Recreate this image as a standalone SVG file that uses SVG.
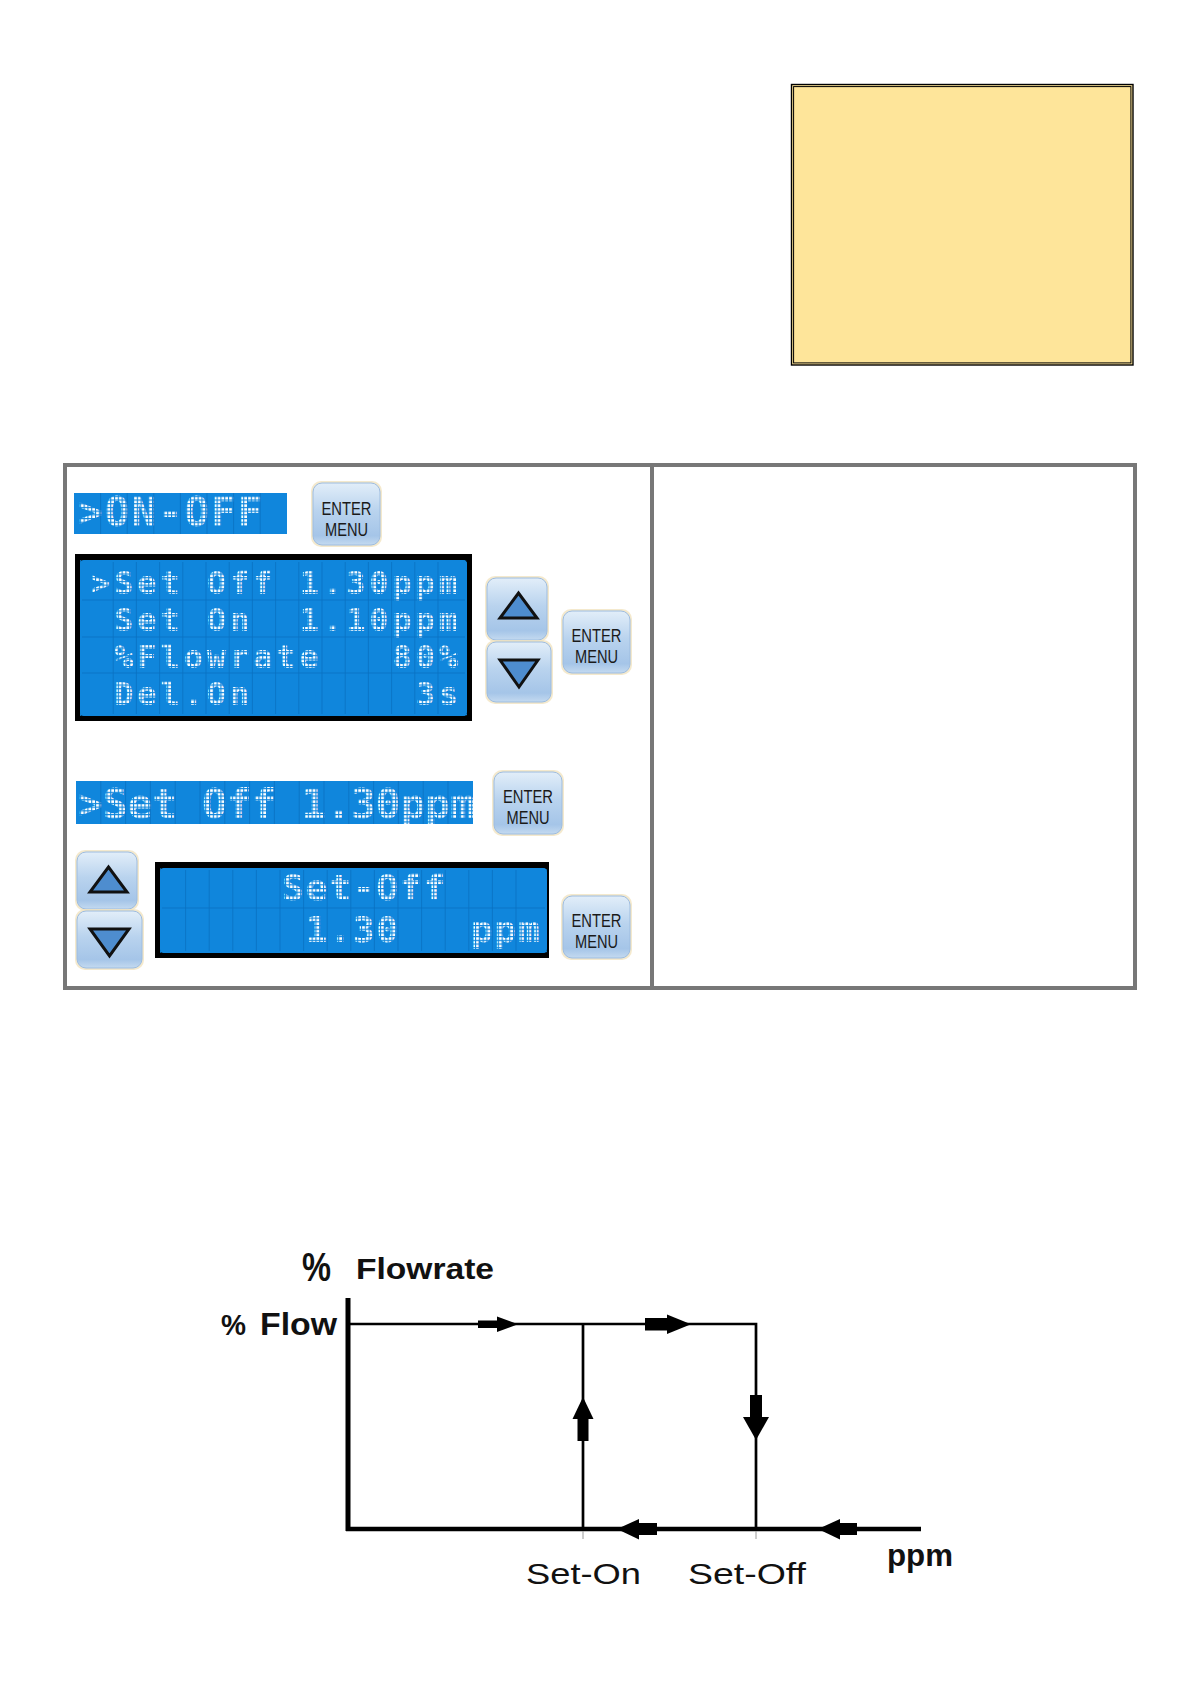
<svg xmlns="http://www.w3.org/2000/svg" width="1191" height="1684" viewBox="0 0 1191 1684">
<defs>
<linearGradient id="btnGrad" x1="0" y1="0" x2="0" y2="1">
<stop offset="0" stop-color="#E2EEF9"/>
<stop offset="0.45" stop-color="#B9D3EE"/>
<stop offset="0.85" stop-color="#A5C5E8"/>
<stop offset="1" stop-color="#C4DAF0"/>
</linearGradient>
<pattern id="dots" width="3.8" height="3.7" patternUnits="userSpaceOnUse">
<path d="M0 0H3.8V1.1H0Z M0 0H1.1V3.7H0Z" fill="#1086DC"/>
</pattern>
</defs>
<style>
.lcdbg{fill:#1086DC}
.lcdframe{fill:#000}
.lcdtxt{font-family:"DejaVu Sans Mono","Liberation Mono",monospace;font-weight:bold;fill:#FFFFFF}
.grid{stroke:#0A72C2;stroke-width:1;fill:none;opacity:0.8}
.halo{fill:#F1E3C0;opacity:0.8}
.btn{fill:url(#btnGrad);stroke:#9DBCE0;stroke-width:1}
.btntxt{font-family:"Liberation Sans",Arial,sans-serif;font-size:18px;fill:#1A1A1A;text-anchor:middle}
.tri{fill:#4E8DCF;stroke:#111;stroke-width:3;stroke-linejoin:miter}
.tbl{fill:none;stroke:#777777;stroke-width:4}
.ax{stroke:#000;fill:none}
.arr{fill:#000}
.lbl{font-family:"Liberation Sans",Arial,sans-serif;fill:#111}
.bold{font-weight:bold}
</style>
<rect width="1191" height="1684" fill="#FFFFFF"/>

<g id="note-box">
<rect x="791.5" y="84.5" width="341.5" height="280.5" fill="#FEE59A" stroke="#000" stroke-width="1.4"/>
<rect x="793.6" y="86.6" width="337.3" height="276.3" fill="none" stroke="#000" stroke-width="1"/>
</g>

<g id="table">
<rect class="tbl" x="65" y="465" width="1070" height="523"/>
<line class="tbl" x1="652" y1="465" x2="652" y2="988"/>
</g>

<g id="lcd-onoff">
<rect class="lcdbg" x="74" y="493" width="213" height="41"/>
<text class="lcdtxt" x="78" y="526" font-size="41" letter-spacing="1.9">&gt;ON-OFF</text>
<rect x="74" y="493" width="213" height="41" fill="url(#dots)"/>
<path class="grid" d="M100.6 493V534M127.2 493V534M153.8 493V534M180.4 493V534M207 493V534M233.6 493V534M260.2 493V534"/>
</g>

<g id="btn-enter-1">
<rect class="halo" x="311" y="481" width="71" height="66" rx="10"/>
<rect class="btn" x="313" y="483" width="67" height="62" rx="9"/>
<text class="btntxt" x="346.5" y="515" textLength="50" lengthAdjust="spacingAndGlyphs">ENTER</text>
<text class="btntxt" x="346.5" y="536" textLength="43" lengthAdjust="spacingAndGlyphs">MENU</text>
</g>

<g id="lcd-main">
<rect class="lcdframe" x="75" y="554" width="397" height="167"/>
<rect class="lcdbg" x="80" y="560" width="387" height="156" rx="4"/>
<text class="lcdtxt" font-size="31.5" letter-spacing="4.2">
<tspan x="91" y="594">&gt;Set</tspan><tspan x="207" y="594">Off</tspan><tspan x="299.8" y="594">1.30ppm</tspan>
</text>
<text class="lcdtxt" font-size="31.5" letter-spacing="4.2">
<tspan x="114.2" y="631">Set</tspan><tspan x="207" y="631">On</tspan><tspan x="299.8" y="631">1.10ppm</tspan>
</text>
<text class="lcdtxt" font-size="31.5" letter-spacing="4.2">
<tspan x="114.2" y="668">%Flowrate</tspan><tspan x="392.6" y="668">80%</tspan>
</text>
<text class="lcdtxt" font-size="31.5" letter-spacing="4.2">
<tspan x="114.2" y="705">Del.On</tspan><tspan x="415.8" y="705">3s</tspan>
</text>
<rect x="80" y="560" width="387" height="156" fill="url(#dots)"/>
<path class="grid" d="M113.2 562V714M136.4 562V714M159.6 562V714M182.8 562V714M206 562V714M229.2 562V714M252.4 562V714M275.6 562V714M298.8 562V714M322 562V714M345.2 562V714M368.4 562V714M391.6 562V714M414.8 562V714M438 562V714M82 600H465M82 637H465M82 673H465"/>
</g>

<g id="btn-up-1">
<rect class="halo" x="485" y="576" width="64" height="66" rx="10"/>
<rect class="btn" x="487" y="578" width="60" height="62" rx="9"/>
<polygon class="tri" points="500,618 537,618 518.5,593"/>
</g>
<g id="btn-down-1">
<rect class="halo" x="485" y="640" width="68" height="64" rx="10"/>
<rect class="btn" x="487" y="642" width="64" height="60" rx="9"/>
<polygon class="tri" points="500,660 538,660 519,687"/>
</g>

<g id="btn-enter-2">
<rect class="halo" x="561" y="609" width="71" height="66" rx="10"/>
<rect class="btn" x="563" y="611" width="67" height="62" rx="9"/>
<text class="btntxt" x="596.5" y="642" textLength="50" lengthAdjust="spacingAndGlyphs">ENTER</text>
<text class="btntxt" x="596.5" y="663" textLength="43" lengthAdjust="spacingAndGlyphs">MENU</text>
</g>

<g id="lcd-setoff">
<rect class="lcdbg" x="76" y="781" width="397" height="43"/>
<text class="lcdtxt" font-size="41" letter-spacing="0.1">
<tspan x="78" y="818">&gt;Set</tspan><tspan x="202" y="818">Off</tspan><tspan x="301.2" y="818">1.30ppm</tspan>
</text>
<rect x="76" y="781" width="397" height="43" fill="url(#dots)"/>
<path class="grid" d="M100.8 781V824M125.6 781V824M150.4 781V824M175.2 781V824M200 781V824M224.8 781V824M249.6 781V824M274.4 781V824M299.2 781V824M324 781V824M348.8 781V824M373.6 781V824M398.4 781V824M423.2 781V824M448 781V824"/>
</g>

<g id="btn-enter-3">
<rect class="halo" x="492" y="770" width="72" height="66" rx="10"/>
<rect class="btn" x="494" y="772" width="68" height="62" rx="9"/>
<text class="btntxt" x="528" y="803" textLength="50" lengthAdjust="spacingAndGlyphs">ENTER</text>
<text class="btntxt" x="528" y="824" textLength="43" lengthAdjust="spacingAndGlyphs">MENU</text>
</g>

<g id="btn-up-2">
<rect class="halo" x="75" y="850" width="64" height="61" rx="10"/>
<rect class="btn" x="77" y="852" width="60" height="57" rx="9"/>
<polygon class="tri" points="90,892 127,892 108.5,867"/>
</g>
<g id="btn-down-2">
<rect class="halo" x="75" y="909" width="69" height="61" rx="10"/>
<rect class="btn" x="77" y="911" width="65" height="57" rx="9"/>
<polygon class="tri" points="90,929 129,929 109.5,956"/>
</g>

<g id="lcd-value">
<rect class="lcdframe" x="155" y="862" width="394" height="96"/>
<rect class="lcdbg" x="160" y="868" width="387" height="85" rx="4"/>
<text class="lcdtxt" font-size="36" letter-spacing="1.9" x="282" y="900">Set-Off</text>
<text class="lcdtxt" font-size="36" letter-spacing="1.9">
<tspan x="305.6" y="942">1.30</tspan><tspan x="470.8" y="942">ppm</tspan>
</text>
<rect x="160" y="868" width="387" height="85" fill="url(#dots)"/>
<path class="grid" d="M185.6 870V951M209.2 870V951M232.8 870V951M256.4 870V951M280 870V951M303.6 870V951M327.2 870V951M350.8 870V951M374.4 870V951M398 870V951M421.6 870V951M445.2 870V951M468.8 870V951M492.4 870V951M516 870V951M162 908H545"/>
</g>

<g id="btn-enter-4">
<rect class="halo" x="561" y="894" width="71" height="66" rx="10"/>
<rect class="btn" x="563" y="896" width="67" height="62" rx="9"/>
<text class="btntxt" x="596.5" y="927" textLength="50" lengthAdjust="spacingAndGlyphs">ENTER</text>
<text class="btntxt" x="596.5" y="948" textLength="43" lengthAdjust="spacingAndGlyphs">MENU</text>
</g>

<g id="chart-labels">
<text class="lbl bold"><tspan x="302" y="1281" font-size="40" textLength="29" lengthAdjust="spacingAndGlyphs">%</tspan><tspan x="356" y="1279" font-size="30" textLength="138" lengthAdjust="spacingAndGlyphs">Flowrate</tspan></text>
<text class="lbl bold"><tspan x="221" y="1335" font-size="30" textLength="25" lengthAdjust="spacingAndGlyphs">%</tspan><tspan x="260" y="1335" font-size="32" textLength="77" lengthAdjust="spacingAndGlyphs">Flow</tspan></text>
<text class="lbl" x="526" y="1584" font-size="30" textLength="115" lengthAdjust="spacingAndGlyphs">Set-On</text>
<text class="lbl" x="688" y="1584" font-size="30" textLength="118" lengthAdjust="spacingAndGlyphs">Set-Off</text>
<text class="lbl bold" x="887" y="1566" font-size="31" textLength="66" lengthAdjust="spacingAndGlyphs">ppm</text>
</g>

<g id="connectors">
<line class="ax" x1="348" y1="1298" x2="348" y2="1531" stroke-width="5"/>
<line class="ax" x1="346" y1="1529" x2="921" y2="1529" stroke-width="4.5"/>
<polyline class="ax" points="348,1324 756,1324 756,1529" stroke-width="2.7"/>
<line class="ax" x1="583" y1="1324" x2="583" y2="1529" stroke-width="2.7"/>
<line x1="583" y1="1531" x2="583" y2="1539" stroke="#9A9A9A" stroke-width="1"/>
<line x1="756" y1="1531" x2="756" y2="1539" stroke="#9A9A9A" stroke-width="1"/>
<rect class="arr" x="478" y="1320.5" width="21" height="7.5"/>
<polygon class="arr" points="497,1316.5 518,1324.3 497,1332"/>
<rect class="arr" x="645" y="1318" width="24" height="12.5"/>
<polygon class="arr" points="667,1314.5 691,1324.3 667,1334"/>
<polygon class="arr" points="583,1397 572.5,1419 593.5,1419"/>
<rect class="arr" x="577.5" y="1418" width="11" height="23"/>
<rect class="arr" x="750" y="1395" width="12" height="23.5"/>
<polygon class="arr" points="743,1417 769,1417 756,1440"/>
<polygon class="arr" points="617,1529 639,1519 639,1539.5"/>
<rect class="arr" x="637" y="1523" width="20" height="12"/>
<polygon class="arr" points="818,1529 840,1519 840,1539.5"/>
<rect class="arr" x="838" y="1523" width="19" height="12"/>
</g>
</svg>
